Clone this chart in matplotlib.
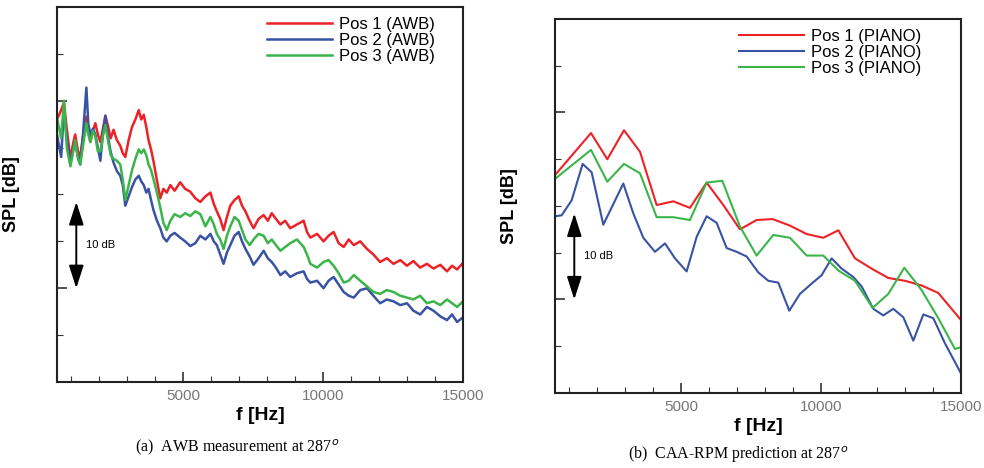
import matplotlib
matplotlib.use("Agg")
import matplotlib.pyplot as plt
import numpy as np
from matplotlib.ticker import FixedLocator

plt.rcParams['font.family'] = ['Liberation Sans', 'DejaVu Sans']

# (a) AWB measurement, SPL [dB] (relative) vs f [Hz]
f_awb = [500, 650, 750, 850, 980, 1080, 1150, 1250, 1330, 1420, 1550, 1620, 1690, 1780, 1870,
         1960, 2050, 2140, 2230, 2330, 2420, 2520, 2640, 2760, 2850, 2940, 3060, 3180, 3300,
         3420, 3510, 3600, 3690, 3770, 3860, 3950, 4070, 4190, 4300, 4420, 4550, 4700, 4900,
         5080, 5260, 5440, 5620, 5800, 5980, 6100, 6210, 6330, 6450, 6570, 6690, 6840, 6990,
         7110, 7230, 7380, 7520, 7700, 7880, 8030, 8170, 8320, 8480, 8650, 8830, 9070, 9310,
         9430, 9550, 9790, 10020, 10200, 10380, 10560, 10740, 10920, 11100, 11330, 11570,
         11800, 12040, 12280, 12520, 12760, 13000, 13230, 13470, 13710, 13950, 14190, 14430,
         14610, 14790, 15000]
pos1_awb = [88.0, 89.0, 89.8, 87.0, 83.8, 85.5, 86.4, 84.6, 84.0, 86.0, 88.3, 87.0, 85.6, 86.8, 87.6,
            86.4, 85.6, 87.0, 88.4, 87.2, 86.0, 86.9, 85.8, 85.2, 84.4, 84.0, 85.8, 87.2, 88.0,
            89.0, 88.0, 88.5, 87.2, 85.8, 84.8, 83.5, 81.5, 79.6, 80.6, 80.2, 81.0, 80.4, 81.3,
            80.6, 80.3, 79.6, 79.2, 79.8, 80.2, 79.0, 78.2, 77.4, 76.2, 77.6, 78.8, 79.4, 79.8,
            78.8, 78.2, 77.2, 76.4, 77.4, 77.8, 77.2, 78.0, 77.4, 76.8, 77.2, 76.4, 76.8, 77.2,
            76.0, 75.4, 75.8, 75.0, 75.6, 76.0, 74.8, 74.4, 75.2, 74.6, 75.0, 74.2,
            73.6, 72.8, 73.2, 72.6, 73.0, 72.4, 72.9, 72.2, 72.6, 72.1, 72.5, 71.8,
            72.4, 72.0, 72.7]
pos2_awb = [86.4, 84.0, 89.2, 86.0, 83.2, 84.8, 85.6, 84.0, 83.2, 86.0, 91.4, 87.5, 86.4, 87.0, 86.4,
            85.0, 83.6, 86.5, 88.4, 86.0, 84.5, 83.4, 82.5, 82.0, 81.0, 78.8, 79.8, 80.8, 81.6,
            82.0, 81.4, 81.0, 80.2, 80.6, 79.4, 78.3, 77.2, 76.4, 75.4, 75.0, 75.6, 75.9, 75.4,
            75.0, 74.5, 74.8, 75.6, 75.2, 75.8, 75.0, 74.6, 73.6, 72.6, 73.8, 74.6, 75.6, 76.0,
            75.0, 74.2, 73.4, 72.5, 73.2, 74.0, 73.2, 72.8, 72.2, 71.4, 71.8, 71.2, 71.6, 71.8,
            71.0, 70.6, 70.8, 70.0, 70.8, 71.2, 70.4, 69.6, 69.2, 69.0, 69.8, 70.0,
            69.2, 68.4, 68.8, 68.6, 68.2, 68.4, 67.6, 67.2, 68.0, 67.6, 67.0, 66.6,
            67.2, 66.4, 66.9]
pos3_awb = [88.2, 86.0, 90.0, 85.0, 83.0, 84.6, 85.8, 83.8, 83.2, 85.0, 87.6, 86.4, 85.6, 86.8, 86.2,
            84.6, 84.6, 86.2, 87.4, 85.6, 84.2, 83.8, 83.6, 83.2, 81.6, 79.4, 81.0, 82.6, 83.8,
            84.8, 84.4, 84.8, 84.2, 83.2, 82.6, 81.6, 80.2, 78.6, 77.0, 76.2, 77.2, 77.9, 77.6,
            78.0, 77.7, 78.2, 77.9, 76.6, 77.6, 76.8, 75.8, 75.2, 74.2, 75.6, 76.6, 77.6, 77.2,
            76.2, 75.2, 74.6, 75.2, 75.8, 75.6, 74.8, 75.2, 74.6, 74.0, 74.4, 74.8, 75.2, 74.4,
            73.6, 72.6, 72.2, 72.8, 73.0, 72.4, 71.6, 70.6, 70.8, 71.4, 70.8, 70.2,
            69.6, 69.4, 69.8, 69.6, 69.2, 69.0, 68.8, 69.2, 68.4, 68.6, 68.2, 68.8,
            68.4, 68.0, 68.6]

# (b) CAA-RPM prediction
f_p1 = [500, 1786, 2369, 2964, 3536, 4131, 4726, 5321, 5917, 6512, 7107, 7702, 8274, 8893,
        9488, 10083, 10619, 11214, 11810, 12405, 13000, 13595, 14190, 15000]
pos1_piano = [83.3, 87.8, 85.0, 88.1, 85.8, 80.1, 80.5, 79.8, 82.5, 80.1, 77.5, 78.5, 78.6, 77.9,
              77.0, 76.6, 77.4, 74.4, 73.3, 72.3, 72.0, 71.5, 70.7, 67.8]
f_p2 = [500, 738, 1095, 1488, 1810, 2226, 2583, 2940, 3298, 3655, 4071, 4429, 4786, 5202,
        5560, 5917, 6274, 6631, 6988, 7345, 7762, 8119, 8476, 8869, 9250, 9667, 10024, 10381,
        10738, 11155, 11452, 11869, 12226, 12583, 12940, 13298, 13655, 14012, 14429, 15000]
pos2_piano = [78.9, 79.0, 80.6, 84.5, 83.6, 78.0, 80.2, 82.4, 79.2, 76.6, 75.1, 76.0, 74.4, 73.0,
              76.7, 78.9, 78.2, 75.5, 75.1, 74.6, 72.9, 72.0, 71.8, 68.8, 70.6, 71.7, 72.6, 74.4,
              73.3, 72.4, 71.4, 69.0, 68.3, 69.0, 68.1, 65.6, 68.4, 68.0, 65.3, 62.1]
f_p3 = [500, 1786, 2369, 2964, 3536, 4131, 4726, 5321, 5917, 6476, 7107, 7702, 8298, 8893,
        9488, 10083, 10619, 11214, 11845, 12405, 12976, 13595, 14190, 14786, 15000]
pos3_piano = [82.9, 86.0, 82.6, 84.5, 83.5, 78.8, 78.8, 78.5, 82.5, 82.7, 77.8, 74.7, 76.9, 76.6,
              74.7, 74.7, 73.1, 72.0, 69.1, 70.6, 73.4, 71.0, 68.0, 64.7, 64.9]

red = '#ec2227'
blue = '#3953a4'
green = '#3bb54a'

fig = plt.figure(figsize=(9.84, 4.68), dpi=100)
ax1 = fig.add_axes([0.0579, 0.1838, 0.4126, 0.8013])
ax2 = fig.add_axes([0.564, 0.1603, 0.4126, 0.7991])

ax1.plot(f_awb, pos1_awb, color=red, lw=1.8, label='Pos 1 (AWB)')
ax1.plot(f_awb, pos2_awb, color=blue, lw=1.8, label='Pos 2 (AWB)')
ax1.plot(f_awb, pos3_awb, color=green, lw=1.8, label='Pos 3 (AWB)')

ax2.plot(f_p1, pos1_piano, color=red, lw=1.5, label='Pos 1 (PIANO)')
ax2.plot(f_p2, pos2_piano, color=blue, lw=1.5, label='Pos 2 (PIANO)')
ax2.plot(f_p3, pos3_piano, color=green, lw=1.5, label='Pos 3 (PIANO)')

for ax, leg_x in [(ax1, 0.493), (ax2, 0.429)]:
    ax.set_xlim(500, 15000)
    ax.set_ylim(60, 100)
    ax.xaxis.set_major_locator(FixedLocator([5000, 10000, 15000]))
    ax.xaxis.set_minor_locator(FixedLocator([1000, 2000, 3000, 4000, 6000, 7000, 8000, 9000,
                                             11000, 12000, 13000, 14000]))
    ax.yaxis.set_major_locator(FixedLocator([70, 90]))
    ax.yaxis.set_minor_locator(FixedLocator([65, 75, 80, 85, 95]))
    ax.set_yticklabels([])
    ax.tick_params(which='both', direction='in', colors='#333333', labelcolor='#777777',
                   labelsize=11, top=False, right=False)
    ax.tick_params(which='major', length=7, width=1.2)
    ax.tick_params(which='minor', length=4, width=0.8)
    ax.tick_params(axis='x', pad=5)
    for s in ax.spines.values():
        s.set_linewidth(1.5)
        s.set_color('#222222')
    ax.set_xlabel('f [Hz]', fontsize=14, fontweight='bold')
    ax.set_ylabel('SPL [dB]', fontsize=13, fontweight='bold')
    ax.yaxis.set_label_coords(-0.092, 0.5)
    ax.xaxis.set_label_coords(0.5, -0.068)
    ax.legend(loc='upper left', bbox_to_anchor=(leg_x, 1.0), frameon=False, fontsize=12,
              handlelength=3.9, handletextpad=0.4, labelspacing=0.05, borderaxespad=0.2)
    # 10 dB scale arrow
    ax.annotate('', xy=(1190, 70), xytext=(1190, 79.2),
                arrowprops=dict(arrowstyle='<|-|>,head_length=1.4,head_width=0.45',
                                color='black', lw=1.4, shrinkA=0, shrinkB=0))
    ax.text(1530, 74.6, '10 dB', fontsize=8, va='center', ha='left')

fig.text(0.241, 0.045, r'(a)  AWB measurement at 287$^o$', family='Liberation Serif',
         fontsize=11.5, ha='center', va='center')
fig.text(0.75, 0.028, r'(b)  CAA-RPM prediction at 287$^o$', family='Liberation Serif',
         fontsize=11.5, ha='center', va='center')

fig.savefig('out.png', dpi=100)
